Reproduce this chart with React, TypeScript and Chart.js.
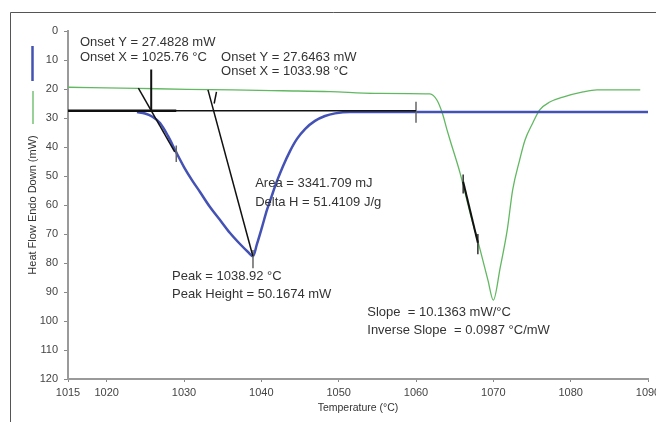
import React, { useEffect, useRef } from "react";
import { Chart, registerables } from "chart.js";

Chart.register(...registerables);

// ---- axis ticks ----
const tempTicks = [1015, 1020, 1030, 1040, 1050, 1060, 1070, 1080, 1090];
const heatTicks = [0, 10, 20, 30, 40, 50, 60, 70, 80, 90, 100, 110, 120];

// ---- sample 1 (blue) ----
const sample1Temp = [1023.92, 1024.96, 1025.86, 1026.9, 1027.93, 1028.97, 1030.0, 1031.03, 1032.07, 1033.36, 1034.66, 1035.95, 1037.24, 1038.28, 1038.92, 1039.44, 1040.09, 1040.73, 1041.38, 1042.03, 1042.8, 1043.71, 1044.61, 1045.65, 1046.94, 1048.23, 1049.53, 1051.47, 1060, 1090];
const sample1Heat = [27.93, 28.45, 29.48, 31.72, 36.2, 41.7, 46.9, 51.4, 55.52, 60.69, 65.17, 69.66, 73.45, 76.21, 77.65, 73.4, 67.6, 61.7, 56.6, 51.7, 46.6, 41.4, 37.2, 33.8, 31.0, 29.3, 28.4, 27.9, 27.9, 27.9];

// ---- sample 2 (green) ----
const sample2Temp = [1015, 1024, 1030.4, 1036.3, 1042.8, 1048.9, 1054.7, 1061.8, 1062.7, 1063.4, 1064.0, 1064.4, 1065.7, 1067.0, 1068.3, 1069.3, 1070.0, 1070.9, 1071.8, 1072.5, 1073.4, 1074.1, 1075.1, 1076.0, 1077.3, 1079.0, 1081.6, 1083.4, 1089.0];
const sample2Heat = [19.4, 19.8, 20.1, 20.3, 20.6, 20.9, 21.5, 21.7, 23.8, 28.3, 34.0, 37.6, 49.0, 62.8, 75.5, 85.9, 92.8, 81.4, 68.6, 54.8, 44.5, 37.6, 31.7, 27.2, 24.5, 22.8, 21.0, 20.3, 20.3];

// ---- analysis construction lines ----
const baselineTemp = [1015, 1060];
const baselineHeat = [27.5, 27.5];
const baselineShortTemp = [1015, 1029];
const baselineShortHeat = [27.5, 27.5];
const onset1TangentTemp = [1024.1, 1028.8];
const onset1TangentHeat = [19.7, 41.7];
const onset1MarkTemp = [1025.76, 1025.76];
const onset1MarkHeat = [13.3, 27.5];
const onset1TickTemp = [1029.0, 1029.0];
const onset1TickHeat = [39.5, 45.2];
const onset2TangentTemp = [1033.1, 1038.9];
const onset2TangentHeat = [20.3, 77.6];
const onset2TickTemp = [1034.2, 1033.9];
const onset2TickHeat = [21.0, 25.0];
const peakTickTemp = [1038.92, 1038.92];
const peakTickHeat = [75.5, 81.8];
const endTickTemp = [1060, 1060];
const endTickHeat = [24.4, 31.6];
const slopeTemp = [1066.1, 1068.0];
const slopeHeat = [52.0, 73.0];
const slopeTick1Temp = [1066.1, 1066.1];
const slopeTick1Heat = [49.5, 56.0];
const slopeTick2Temp = [1068.0, 1068.0];
const slopeTick2Heat = [70.0, 77.0];

// ---- result texts ----
const resultTexts = [
  "Onset Y = 27.4828 mW",
  "Onset X = 1025.76 °C",
  "Onset Y = 27.6463 mW",
  "Onset X = 1033.98 °C",
  "Area = 3341.709 mJ",
  "Delta H = 51.4109 J/g",
  "Peak = 1038.92 °C",
  "Peak Height = 50.1674 mW",
  "Slope  = 10.1363 mW/°C",
  "Inverse Slope  = 0.0987 °C/mW",
];
// anchors (data units) for the text labels
const resultTemp = [1016.55, 1016.55, 1034.8, 1034.8, 1039.2, 1039.2, 1028.45, 1028.45, 1053.7, 1053.7];
const resultHeat = [3.8, 9.0, 9.0, 14.1, 52.4, 59.0, 84.5, 90.7, 97.2, 103.4];

const BLUE = "#4352b4";
const GREEN = "#62b862";
const FONT = '"Liberation Sans", Arial, sans-serif';

const pts = (xs: number[], ys: number[]) => xs.map((x, i) => ({ x, y: ys[i] }));

export default function App() {
  const ref = useRef<HTMLCanvasElement>(null);

  useEffect(() => {
    const canvas = ref.current;
    if (!canvas) return;

    const curve = (label: string, xs: number[], ys: number[], color: string, width: number) => ({
      label,
      data: pts(xs, ys),
      borderColor: color,
      backgroundColor: color,
      borderWidth: width,
      pointRadius: 0,
      fill: false,
      cubicInterpolationMode: "monotone",
      order: 2,
    });
    const seg = (xs: number[], ys: number[], color: string, width: number) => ({
      label: "",
      data: pts(xs, ys),
      borderColor: color,
      borderWidth: width,
      pointRadius: 0,
      fill: false,
      tension: 0,
      order: 0,
    });

    const decor = {
      id: "decor",
      beforeDraw(chart: any) {
        const ctx = chart.ctx;
        ctx.save();
        ctx.fillStyle = "#ffffff";
        ctx.fillRect(0, 0, chart.width, chart.height);
        ctx.strokeStyle = "#555";
        ctx.lineWidth = 1;
        ctx.beginPath();
        ctx.moveTo(10.5, chart.height);
        ctx.lineTo(10.5, 12.5);
        ctx.lineTo(chart.width, 12.5);
        ctx.stroke();
        // legend marks
        ctx.lineWidth = 2.5;
        ctx.strokeStyle = BLUE;
        ctx.beginPath();
        ctx.moveTo(32.5, 46);
        ctx.lineTo(32.5, 81);
        ctx.stroke();
        ctx.lineWidth = 1.3;
        ctx.strokeStyle = GREEN;
        ctx.beginPath();
        ctx.moveTo(33, 91);
        ctx.lineTo(33, 124);
        ctx.stroke();
        ctx.restore();
      },
      afterDatasetsDraw(chart: any) {
        const ctx = chart.ctx;
        const xs = chart.scales.x;
        const ys = chart.scales.y;
        ctx.save();
        ctx.font = `13px ${FONT}`;
        ctx.fillStyle = "#333";
        ctx.textAlign = "left";
        ctx.textBaseline = "middle";
        resultTexts.forEach((t, i) => {
          ctx.fillText(t, xs.getPixelForValue(resultTemp[i]), ys.getPixelForValue(resultHeat[i]));
        });
        ctx.restore();
      },
    };

    const chart = new Chart(canvas, {
      type: "line",
      data: {
        datasets: [
          curve("Sample 1", sample1Temp, sample1Heat, BLUE, 2.5),
          curve("Sample 2", sample2Temp, sample2Heat, GREEN, 1.3),
          seg(baselineTemp, baselineHeat, "#111", 1.5),
          seg(baselineShortTemp, baselineShortHeat, "#111", 2.5),
          seg(onset1TangentTemp, onset1TangentHeat, "#111", 1.5),
          seg(onset1MarkTemp, onset1MarkHeat, "#111", 2),
          seg(onset1TickTemp, onset1TickHeat, "#666", 1.5),
          seg(onset2TangentTemp, onset2TangentHeat, "#111", 1.5),
          seg(onset2TickTemp, onset2TickHeat, "#111", 1.5),
          seg(peakTickTemp, peakTickHeat, "#666", 1.5),
          seg(endTickTemp, endTickHeat, "#666", 1.5),
          seg(slopeTemp, slopeHeat, "#111", 2),
          seg(slopeTick1Temp, slopeTick1Heat, "#333", 1.5),
          seg(slopeTick2Temp, slopeTick2Heat, "#333", 1.5),
        ] as any,
      },
      options: {
        responsive: false,
        maintainAspectRatio: false,
        animation: false,
        layout: { padding: { left: 0, top: 31, right: 8, bottom: 0 } },
        plugins: {
          legend: { display: false },
          tooltip: { enabled: false },
          title: { display: false },
        },
        scales: {
          x: {
            type: "linear",
            min: 1015,
            max: 1090,
            afterBuildTicks: (s: any) => {
              s.ticks = tempTicks.map((v) => ({ value: v }));
            },
            afterFit: (s: any) => {
              s.height = 43;
              s.paddingLeft = 0;
              s.paddingRight = 0;
            },
            grid: { drawOnChartArea: false, drawTicks: true, tickLength: 3, color: "#888", lineWidth: 1 },
            border: { color: "#9a9a9a", width: 2 },
            ticks: {
              padding: 4,
              color: "#444",
              font: { family: FONT, size: 11 },
              maxRotation: 0,
              autoSkip: false,
              callback: (v: any) => String(v),
            },
            title: {
              display: true,
              text: "Temperature (°C)",
              color: "#333",
              font: { family: FONT, size: 10.5 },
              padding: { top: 0, bottom: 8 },
            },
          },
          y: {
            type: "linear",
            reverse: true,
            min: 0,
            max: 120,
            afterBuildTicks: (s: any) => {
              s.ticks = heatTicks.map((v) => ({ value: v }));
            },
            afterFit: (s: any) => {
              s.width = 68;
            },
            grid: { drawOnChartArea: false, drawTicks: true, tickLength: 4, color: "#888", lineWidth: 1 },
            border: { color: "#9a9a9a", width: 2 },
            ticks: {
              padding: 6,
              color: "#444",
              font: { family: FONT, size: 11 },
              autoSkip: false,
              callback: (v: any) => String(v),
            },
            title: {
              display: true,
              text: "Heat Flow Endo Down (mW)",
              color: "#333",
              font: { family: FONT, size: 11 },
              padding: { top: 26, bottom: 0 },
            },
          },
        },
      },
      plugins: [decor],
    } as any);

    return () => chart.destroy();
  }, []);

  return (
    <div style={{ position: "absolute", left: 0, top: 0, width: 656, height: 422, background: "#fff" }}>
      <canvas ref={ref} width={656} height={422} style={{ display: "block", width: 656, height: 422 }} />
    </div>
  );
}
